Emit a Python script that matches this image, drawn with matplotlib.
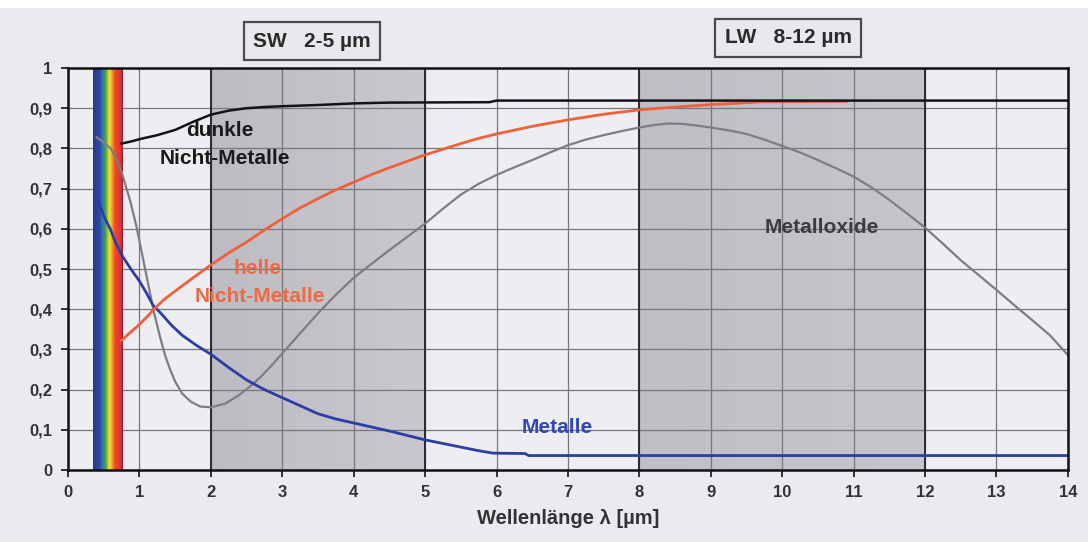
import numpy as np
import matplotlib
matplotlib.use("Agg")
import matplotlib.pyplot as plt
from matplotlib.colors import LinearSegmentedColormap
from matplotlib.patches import Rectangle

plt.rcParams['font.family'] = ['Liberation Sans', 'DejaVu Sans']
plt.rcParams['font.weight'] = 'bold'

# Emissivity curves vs. wavelength (µm)
dark_x = [0.75, 0.9, 1.0, 1.25, 1.5, 1.75, 2.0, 2.25, 2.5, 2.75, 3.0, 3.5, 4.0,
          4.5, 5.9, 6.0, 14.0]
dark_y = [0.812, 0.818, 0.823, 0.833, 0.846, 0.866, 0.884, 0.894, 0.900, 0.903,
          0.905, 0.908, 0.912, 0.914, 0.915, 0.919, 0.919]

bright_x = [0.75, 0.87, 1.0, 1.1, 1.22, 1.35, 1.5, 1.75, 2.0, 2.25, 2.5, 2.75,
            3.0, 3.25, 3.5, 3.75, 4.0, 4.25, 4.5, 4.75, 5.0, 5.25, 5.5, 5.75,
            6.0, 6.5, 7.0, 7.5, 8.0, 8.5, 9.0, 9.35, 9.7, 10.9]
bright_y = [0.322, 0.342, 0.362, 0.38, 0.403, 0.425, 0.445, 0.478, 0.51, 0.54,
            0.567, 0.597, 0.625, 0.652, 0.675, 0.697, 0.716, 0.735, 0.752, 0.768,
            0.784, 0.798, 0.812, 0.825, 0.836, 0.855, 0.871, 0.885, 0.896, 0.903,
            0.909, 0.912, 0.916, 0.917]

oxide_x = [0.4, 0.5, 0.6, 0.7, 0.77, 0.87, 0.96, 1.04, 1.12, 1.2, 1.29, 1.36,
           1.43, 1.5, 1.6, 1.72, 1.85, 2.0, 2.2, 2.4, 2.55, 2.7, 2.85, 3.0, 3.25,
           3.5, 3.75, 4.0, 4.25, 4.5, 4.75, 5.0, 5.25, 5.5, 5.75, 6.0, 6.25, 6.5,
           6.75, 7.0, 7.25, 7.5, 7.75, 8.0, 8.2, 8.4, 8.6, 8.8, 9.0, 9.25, 9.5,
           9.75, 10.0, 10.25, 10.5, 10.75, 11.0, 11.25, 11.5, 11.75, 12.0, 12.25,
           12.5, 12.75, 13.0, 13.25, 13.5, 13.75, 14.0]
oxide_y = [0.828, 0.815, 0.80, 0.765, 0.73, 0.67, 0.605, 0.535, 0.465, 0.395,
           0.33, 0.285, 0.25, 0.22, 0.19, 0.17, 0.158, 0.156, 0.165, 0.187,
           0.208, 0.232, 0.26, 0.29, 0.34, 0.39, 0.436, 0.478, 0.513, 0.547,
           0.58, 0.613, 0.65, 0.685, 0.712, 0.734, 0.753, 0.771, 0.79, 0.808,
           0.822, 0.833, 0.843, 0.852, 0.858, 0.862, 0.861, 0.857, 0.852, 0.845,
           0.836, 0.822, 0.806, 0.79, 0.771, 0.751, 0.73, 0.703, 0.672, 0.638,
           0.603, 0.563, 0.522, 0.485, 0.448, 0.41, 0.373, 0.335, 0.286]

metal_x = [0.38, 0.45, 0.52, 0.59, 0.68, 0.77, 0.88, 1.0, 1.1, 1.19, 1.3, 1.45,
           1.6, 1.8, 2.0, 2.25, 2.5, 2.75, 3.0, 3.25, 3.5, 3.75, 4.0, 4.25, 4.5,
           4.75, 5.0, 5.25, 5.5, 5.75, 5.95, 6.4, 6.45, 14.0]
metal_y = [0.69, 0.655, 0.625, 0.6, 0.56, 0.53, 0.5, 0.47, 0.44, 0.41, 0.39,
           0.36, 0.335, 0.31, 0.288, 0.255, 0.224, 0.2, 0.18, 0.16, 0.14, 0.127,
           0.117, 0.107, 0.097, 0.086, 0.075, 0.066, 0.057, 0.048, 0.042, 0.041,
           0.036, 0.036]

sw_band = (2, 5)
lw_band = (8, 12)
visible_band = (0.35, 0.77)

x_ticks = list(range(0, 15))
y_ticks = [i / 10 for i in range(0, 11)]
y_labels = ['0', '0,1', '0,2', '0,3', '0,4', '0,5', '0,6', '0,7', '0,8', '0,9', '1']

bg = '#ebeaf0'
fig = plt.figure(figsize=(10.88, 5.42), dpi=100, facecolor='white')
fig.patches.append(Rectangle((0, 0), 1, 0.985, transform=fig.transFigure,
                             facecolor=bg, edgecolor='none', zorder=-10))
ax = fig.add_axes([0.0625, 0.1328, 0.919, 0.7417])
ax.set_facecolor('#eeedf2')
ax.set_xlim(0, 14)
ax.set_ylim(0, 1)

# shaded atmospheric windows with a soft horizontal gradient
grad = np.linspace(0, 1, 256).reshape(1, -1)
sw_cmap = LinearSegmentedColormap.from_list('sw', ['#bdbcc3', '#c9c8ce'])
lw_cmap = LinearSegmentedColormap.from_list('lw', ['#c0bfc6', '#c6c5cb'])
ax.imshow(grad, extent=[sw_band[0], sw_band[1], 0, 1], aspect='auto',
          cmap=sw_cmap, zorder=0.5)
ax.imshow(grad, extent=[lw_band[0], lw_band[1], 0, 1], aspect='auto',
          cmap=lw_cmap, zorder=0.5)

# grid
for xv in x_ticks:
    ax.axvline(xv, color='#76767c', lw=0.9, zorder=1)
for yv in y_ticks:
    ax.axhline(yv, color='#76767c', lw=0.9, zorder=1)
for xv in (*sw_band, *lw_band):
    ax.axvline(xv, color='#2a2a2e', lw=1.4, zorder=1.2)

# visible spectrum strip
spec = LinearSegmentedColormap.from_list('spec', [
    (0.0, '#28388a'), (0.22, '#2a4aa6'), (0.33, '#3a7ab0'), (0.42, '#3ea046'),
    (0.5, '#b8d030'), (0.56, '#f2e22c'), (0.64, '#f39a2a'), (0.74, '#ec4a2e'),
    (0.93, '#e0303a'), (1.0, '#7a2030')])
ax.imshow(grad, extent=[visible_band[0], visible_band[1], 0, 1], aspect='auto',
          cmap=spec, zorder=2)

ax.plot(oxide_x, oxide_y, color='#7e7e82', lw=1.6, zorder=3)
ax.plot(metal_x, metal_y, color='#2c3ea6', lw=2.0, zorder=3.2)
ax.plot(bright_x, bright_y, color='#f0603a', lw=2.0, zorder=3.3)
ax.plot(dark_x, dark_y, color='#141414', lw=1.8, zorder=3.4)

tkw = dict(fontsize=15, fontweight='bold', ha='center', va='center', zorder=5)
ax.text(2.13, 0.845, 'dunkle', color='#1a1a1a', **tkw)
ax.text(2.2, 0.775, 'Nicht-Metalle', color='#1a1a1a', **tkw)
ax.text(2.65, 0.502, 'helle', color='#ec6a44', **tkw)
ax.text(2.68, 0.432, 'Nicht-Metalle', color='#ec6a44', **tkw)
ax.text(10.55, 0.603, 'Metalloxide', color='#3c3c40', **tkw)
ax.text(6.85, 0.105, 'Metalle', color='#3048b0', **tkw)

for s in ax.spines.values():
    s.set_color('#111111')
    s.set_linewidth(1.8)
    s.set_zorder(6)

ax.set_xticks(x_ticks)
ax.set_xticklabels([str(v) for v in x_ticks])
ax.set_yticks(y_ticks)
ax.set_yticklabels(y_labels)
ax.tick_params(axis='both', direction='out', length=5, width=1.3, color='#222222',
               labelsize=12, labelcolor='#333333', pad=6)
for lab in ax.get_xticklabels() + ax.get_yticklabels():
    lab.set_fontweight('bold')
ax.set_xlabel('Wellenlänge λ [µm]', fontsize=14.5, fontweight='bold',
              color='#333333', labelpad=6)

box = dict(boxstyle='square,pad=0.45', facecolor='#e9e8ed', edgecolor='#4a4a4e', lw=1.6)
fig.text(0.2868, 0.924, 'SW   2-5 µm', fontsize=15, fontweight='bold', color='#2a2a2a',
         ha='center', va='center', bbox=box)
fig.text(0.7243, 0.930, 'LW   8-12 µm', fontsize=15, fontweight='bold', color='#2a2a2a',
         ha='center', va='center', bbox=box)

fig.savefig('out.png', dpi=100, facecolor=fig.get_facecolor())
